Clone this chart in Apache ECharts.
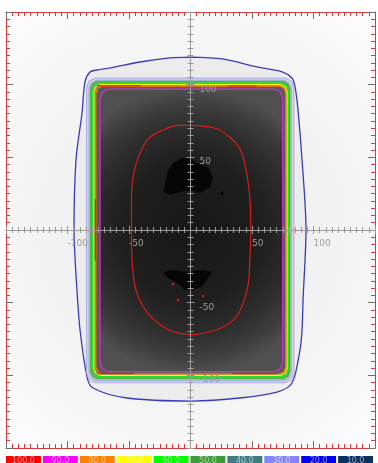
<!DOCTYPE html>
<html>
<head>
<meta charset="utf-8">
<script src="https://cdn.jsdelivr.net/npm/echarts@6/dist/echarts.min.js"></script>
<style>
  html, body { margin: 0; padding: 0; background: #ffffff; }
  #chart { width: 378px; height: 463px; }
</style>
</head>
<body>
<div id="chart"></div>
<script>
// Isodose levels (% of reference dose) and the colours used for them
const doseLevels = [100, 90, 80, 70, 60, 50, 40, 30, 20, 10];
const doseColors = ['#ff0000', '#ff00ff', '#ff8000', '#ffff00', '#00ff00',
                    '#3c9c3c', '#3c7c84', '#8484ff', '#0000f0', '#0c3064'];

// Axis range and labelled positions, mm
const axisMin = -150;
const axisMax = 150;
const labelledTicks = [-100, -50, 50, 100];

// Isodose contours as [x mm, y mm] vertices
const iso100 = [
  [0, 72], [20, 70], [32, 64], [40, 56], [44, 46], [48, 25], [49, 0], [48, -25],
  [47, -37], [43, -50], [37, -60], [28, -66], [16, -70], [0, -72], [-14, -70],
  [-25, -65], [-35, -57], [-42, -47], [-46, -35], [-48, -10], [-48, 20], [-47, 35],
  [-42, 51], [-34, 63], [-22, 69], [-10, 72]
];
const iso90 = [
  [-73.5, 90], [-71.5, 95], [-66.5, 97], [68, 97], [73, 95], [75, 90],
  [75, -90.5], [73, -95.5], [68, -97.5], [-66.5, -97.5], [-71.5, -95.5], [-73.5, -90.5]
];
const iso80 = [
  [-77, 94], [-75.5, 97.5], [-72, 99], [72.5, 99], [76, 97.5], [77.5, 94],
  [77.5, -94], [76, -97.5], [72.5, -99], [-72, -99], [-75.5, -97.5], [-77, -94]
];
const iso70 = [
  [-78.5, 95], [-77, 98.5], [-73.5, 100], [73.5, 100], [77, 98.5], [78.5, 95],
  [78.5, -95], [77, -98.5], [73.5, -100], [-73.5, -100], [-77, -98.5], [-78.5, -95]
];
const iso60 = [
  [-79.5, 96], [-78, 99.5], [-74.5, 101], [74.5, 101], [78, 99.5], [79.5, 96],
  [79.5, -96], [78, -99.5], [74.5, -101], [-74.5, -101], [-78, -99.5], [-79.5, -96]
];
const iso50 = [
  [-81, 97], [-79.5, 100.5], [-76, 102], [75.5, 102], [79, 100.5], [80.5, 97],
  [80.5, -97], [79, -100.5], [75.5, -102], [-76, -102], [-79.5, -100.5], [-81, -97]
];
const iso40 = [
  [-82.5, 97], [-80.7, 101.2], [-76.5, 103], [76, 103], [80.2, 101.2], [82, 97],
  [82, -97.5], [80.2, -101.7], [76, -103.5], [-76.5, -103.5], [-80.7, -101.7], [-82.5, -97.5]
];
const iso30 = [
  [-84.5, 97.5], [-82.5, 102.5], [-77.5, 104.5], [77, 104.5], [82, 102.5], [84, 97.5],
  [84, -98], [82, -103], [77, -105], [-77.5, -105], [-82.5, -103], [-84.5, -98]
];
const iso20 = [
  [0, 119], [26, 117.7], [54, 112.2], [75, 108.7], [82.5, 104.6], [85, 98.4],
  [87.4, 82.6], [90.7, 48.2], [93.9, 0], [91.5, -48.2], [90.7, -68.8], [89, -82.6],
  [82.5, -105.3], [70.3, -111.5], [40.2, -115.6], [1.2, -117.7], [-51.6, -115.6],
  [-79.3, -108.7], [-84.1, -101.2], [-89.8, -68.8], [-92.3, -41.3], [-94.7, 0],
  [-93.1, 48.2], [-88.2, 80.5], [-85.8, 101.9], [-81.7, 108.7], [-76, 110.1],
  [-65.4, 111.5], [-41.1, 115.6], [-16.7, 118.4]
];

// Short 100% fragments along the field edges
const edgeHotTopLeft = [[-76, 99.2], [-40, 99.4]];
const edgeHotTopRight = [[30, 99.2], [54, 99.2]];
const edgeHotBottomLeft = [[-76, -98.6], [-46, -98.6]];
const edgeHotBottomRight = [[34, -98.6], [70, -98.6]];
const edgeHotLeft = [[-77.3, 21], [-77.3, -21]];

// Regions above the displayed dose range
const hotSpotUpper = [
  [-20.7, 31.0], [-22.4, 26.2], [-16.7, 24.1], [-8.5, 26.2], [1.2, 27.5], [7.7, 25.5],
  [15.9, 29.6], [18.3, 36.5], [14.2, 43.4], [5.3, 46.1], [-0.4, 49.6], [-6.9, 49.6],
  [-14.2, 46.1], [-19.1, 39.2]
];
const hotSpotSmall = [[24.5, 26.5], [26.8, 26.5], [26.8, 24.3], [24.5, 24.3]];
const hotSpotLower = [
  [-22.4, -29.6], [-16.7, -27.5], [-2.8, -28.9], [10.2, -27.5], [17.5, -28.9],
  [14.2, -33.0], [9.3, -39.2], [2.0, -41.3], [-4.5, -41.3], [-11.0, -36.5], [-18.3, -33.0]
];
// Dose maxima
const maxPoints = [[-14.2, -37.2], [-10.2, -48.2], [10.2, -45.4]];

// Plot area layout, px
const gridBox = { left: 6, right: 3, top: 12, bottom: 15 };
const plotW = 378 - gridBox.left - gridBox.right;
const plotH = 463 - gridBox.top - gridBox.bottom;

const chart = echarts.init(document.getElementById('chart'), null, { renderer: 'canvas' });

function closed(pts) { return pts.concat([pts[0]]); }

function fillSeries(points, fill, z) {
  return {
    type: 'custom', coordinateSystem: 'cartesian2d', silent: true, z: z,
    clip: true, animation: false,
    data: [[0, 0]],
    renderItem: function (params, api) {
      return {
        type: 'polygon',
        shape: { points: points.map(function (p) { return api.coord(p); }) },
        style: { fill: fill }
      };
    }
  };
}

function contourSeries(points, color, width, smooth, isClosed) {
  return {
    type: 'line', silent: true, z: 4, animation: false,
    data: isClosed === false ? points : closed(points),
    showSymbol: false, symbol: 'none', smooth: smooth,
    lineStyle: { color: color, width: width }
  };
}

// Grey dose wash inside the 90% line: darkest at the centre of the field
const fieldGradient = {
  type: 'radial', x: 0.5, y: 0.5, r: 0.78,
  colorStops: [
    { offset: 0, color: '#161616' },
    { offset: 0.5, color: '#1f1f1f' },
    { offset: 0.72, color: '#2d2d2d' },
    { offset: 0.88, color: '#3d3d3d' },
    { offset: 1, color: '#505050' }
  ]
};

const borderRed = '#d43c3c';
function borderAxis(pos) {
  return {
    type: 'value', min: axisMin, max: axisMax, interval: 50, position: pos, z: 6,
    axisLine: { show: true, onZero: false, lineStyle: { color: borderRed, width: 1 } },
    axisTick: { show: true, inside: true, length: 7, lineStyle: { color: '#6e6e6e' } },
    minorTick: { show: true, splitNumber: 10, length: 4, lineStyle: { color: borderRed } },
    axisLabel: { show: false },
    splitLine: { show: false }, minorSplitLine: { show: false }
  };
}
// Crosshair axes through the origin; a pair per direction gives ticks on both sides
function centerAxis(pos, offset, inside, showLabels) {
  return {
    type: 'value', min: axisMin, max: axisMax, interval: 50, position: pos, offset: offset, z: 7,
    axisLine: { show: true, onZero: false, lineStyle: { color: '#9a9a9a', width: 1 } },
    axisTick: { show: true, inside: inside, length: 4, lineStyle: { color: '#9a9a9a' } },
    minorTick: { show: true, splitNumber: 10, length: 3, lineStyle: { color: '#9a9a9a' } },
    axisLabel: {
      show: showLabels, margin: 9, color: '#9c9c9c', fontSize: 9,
      fontFamily: 'DejaVu Sans', align: 'left', verticalAlign: 'top',
      formatter: function (v) { return labelledTicks.indexOf(v) >= 0 ? String(v) : ''; }
    },
    splitLine: { show: false }, minorSplitLine: { show: false }
  };
}

const legendSlot = plotW / doseLevels.length;
const legendGraphics = [];
doseLevels.forEach(function (lv, i) {
  const x0 = gridBox.left + i * legendSlot;
  legendGraphics.push({
    type: 'rect', silent: true,
    shape: { x: x0, y: 456, width: legendSlot - 2, height: 9 },
    style: { fill: doseColors[i] }
  });
  legendGraphics.push({
    type: 'text', silent: true, x: x0 + (legendSlot - 2) / 2, y: 460.5,
    style: { text: lv.toFixed(1), fill: 'rgba(255,255,255,0.55)',
             font: '8px "DejaVu Sans"', align: 'center', verticalAlign: 'middle' }
  });
});

const option = {
  animation: false,
  backgroundColor: '#ffffff',
  grid: {
    left: gridBox.left, right: gridBox.right, top: gridBox.top, bottom: gridBox.bottom,
    containLabel: false, outerBoundsMode: 'none',
    show: true, borderWidth: 0,
    backgroundColor: {
      type: 'radial', x: 0.5, y: 0.5, r: 0.75,
      colorStops: [{ offset: 0, color: '#eaeaea' }, { offset: 1, color: '#fbfbfb' }]
    }
  },
  xAxis: [
    borderAxis('bottom'), borderAxis('top'),
    centerAxis('bottom', -plotH / 2, false, true), centerAxis('bottom', -plotH / 2, true, false)
  ],
  yAxis: [
    borderAxis('left'), borderAxis('right'),
    centerAxis('right', -plotW / 2, false, true), centerAxis('right', -plotW / 2, true, false)
  ],
  graphic: legendGraphics,
  series: [
    fillSeries(iso20, '#ececec', 1),
    fillSeries(iso30, '#d8d8d8', 1),
    fillSeries(iso40, '#bcbcbc', 1),
    fillSeries(iso50, '#9a9a9a', 1),
    fillSeries(iso60, '#808080', 1),
    fillSeries(iso70, '#6c6c6c', 1),
    fillSeries(iso80, '#5a5a5a', 1),
    fillSeries(iso90, fieldGradient, 1),
    fillSeries(hotSpotUpper, '#060606', 2),
    fillSeries(hotSpotSmall, '#060606', 2),
    fillSeries(hotSpotLower, '#060606', 2),
    contourSeries(iso20, '#3a3ab8', 1.3, 0.3),
    contourSeries(iso30, '#b0b0ee', 1.2, false),
    contourSeries(iso40, '#9ab4c8', 1.2, false),
    contourSeries(iso50, '#3caa3c', 1.2, false),
    contourSeries(iso60, doseColors[4], 1.2, false),
    contourSeries(iso70, doseColors[3], 1.2, false),
    contourSeries(iso80, doseColors[2], 1.2, false),
    contourSeries(edgeHotTopLeft, '#e81c1c', 1.2, false, false),
    contourSeries(edgeHotTopRight, '#e81c1c', 1.2, false, false),
    contourSeries(edgeHotBottomLeft, '#e81c1c', 1.2, false, false),
    contourSeries(edgeHotBottomRight, '#e81c1c', 1.2, false, false),
    contourSeries(edgeHotLeft, '#e81c1c', 1.2, false, false),
    contourSeries(iso90, '#d030d0', 1.2, false),
    contourSeries(iso100, '#d81c1c', 1.2, 0.35),
    {
      type: 'scatter', silent: true, z: 5, animation: false,
      data: maxPoints, symbol: 'rect', symbolSize: 2.5,
      itemStyle: { color: '#e01818' }
    }
  ]
};
chart.setOption(option);
</script>
</body>
</html>
